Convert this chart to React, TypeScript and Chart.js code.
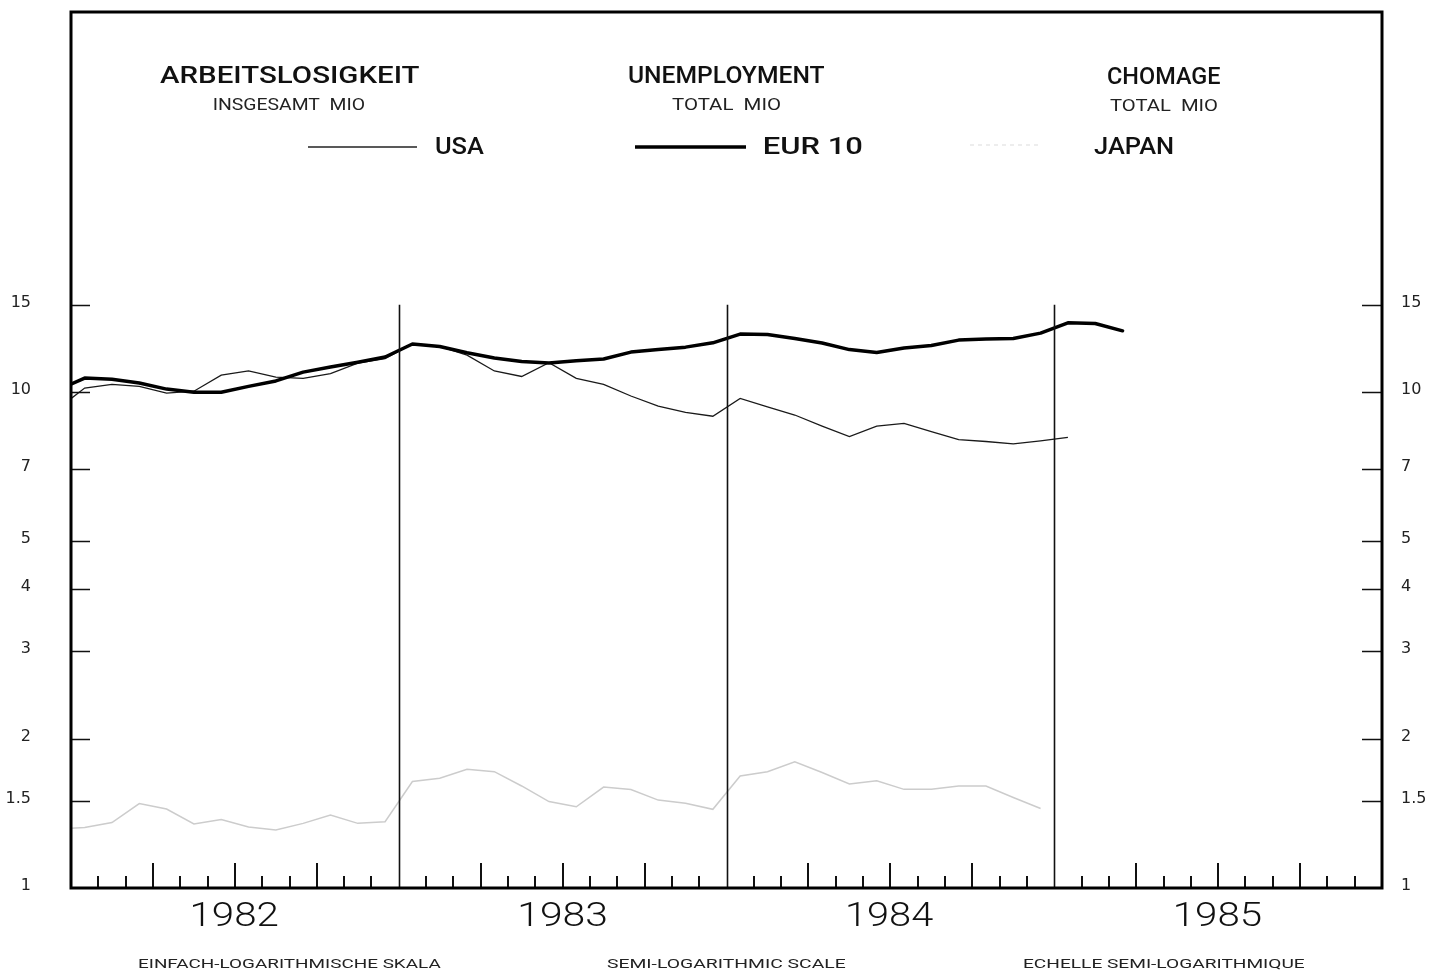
import React, { useEffect, useRef } from "react";
import { Chart, registerables } from "chart.js";

Chart.register(...registerables);

// Monthly observations, Dec 1981 .. Mar 1985
const months = [
  "1981-12",
  "1982-01", "1982-02", "1982-03", "1982-04", "1982-05", "1982-06",
  "1982-07", "1982-08", "1982-09", "1982-10", "1982-11", "1982-12",
  "1983-01", "1983-02", "1983-03", "1983-04", "1983-05", "1983-06",
  "1983-07", "1983-08", "1983-09", "1983-10", "1983-11", "1983-12",
  "1984-01", "1984-02", "1984-03", "1984-04", "1984-05", "1984-06",
  "1984-07", "1984-08", "1984-09", "1984-10", "1984-11", "1984-12",
  "1985-01", "1985-02", "1985-03",
];

// Unemployment, millions
const usa = [
  9.24,
  10.19, 10.36, 10.27, 9.95, 10.04, 10.82, 11.03, 10.72, 10.66, 10.9, 11.44, 11.68,
  12.5, 12.36, 11.87, 11.03, 10.75, 11.46, 10.66, 10.36, 9.82, 9.37, 9.1, 8.94,
  9.71, 9.34, 8.99, 8.54, 8.13, 8.54, 8.65, 8.32, 8.02, 7.95, 7.86, 7.97,
  8.1,
];

const eur10 = [
  10.09,
  10.67, 10.61, 10.43, 10.14, 9.99, 9.99, 10.27, 10.53, 10.97, 11.23, 11.49, 11.77,
  12.5, 12.36, 12.0, 11.71, 11.52, 11.44, 11.57, 11.66, 12.04, 12.18, 12.32, 12.57,
  13.09, 13.07, 12.82, 12.56, 12.18, 12.02, 12.27, 12.41, 12.73, 12.79, 12.83, 13.15,
  13.79, 13.75, 13.29,
];

const japan = [
  1.315,
  1.324, 1.355, 1.48, 1.443, 1.346, 1.374, 1.327, 1.309, 1.35, 1.404, 1.35, 1.36,
  1.64, 1.664, 1.735, 1.716, 1.606, 1.494, 1.458, 1.598, 1.58, 1.504, 1.482, 1.441,
  1.682, 1.716, 1.797, 1.71, 1.621, 1.646, 1.581, 1.581, 1.606, 1.606, 1.522, 1.446,
];

const yTicks = [1, 1.5, 2, 3, 4, 5, 7, 10, 15];
const yTickLabels = ["1", "1.5", "2", "3", "4", "5", "7", "10", "15"];
const years = ["1982", "1983", "1984", "1985"];
const seriesNames = ["USA", "EUR 10", "JAPAN"];
const titles = ["ARBEITSLOSIGKEIT", "UNEMPLOYMENT", "CHOMAGE"];
const subtitles = ["INSGESAMT  MIO", "TOTAL  MIO", "TOTAL  MIO"];
const footers = [
  "EINFACH-LOGARITHMISCHE SKALA",
  "SEMI-LOGARITHMIC SCALE",
  "ECHELLE SEMI-LOGARITHMIQUE",
];

const FIRST_YEAR = 1982;

function monthOffset(label: string): number {
  const [yy, mm] = label.split("-").map(Number);
  return (yy - FIRST_YEAR) * 12 + (mm - 1) + 0.5;
}

function toPoints(values: number[]) {
  return values.map((v, i) => ({ x: monthOffset(months[i]), y: v }));
}

function fitText(
  ctx: CanvasRenderingContext2D,
  str: string,
  left: number,
  right: number,
  baseline: number,
  font: string
) {
  ctx.save();
  ctx.font = font;
  ctx.textAlign = "left";
  ctx.textBaseline = "alphabetic";
  const m = ctx.measureText(str);
  const w = m.actualBoundingBoxLeft + m.actualBoundingBoxRight;
  const sx = (right - left) / w;
  ctx.translate(left + m.actualBoundingBoxLeft * sx, baseline);
  ctx.scale(sx, 1);
  ctx.fillText(str, 0, 0);
  ctx.restore();
}

const decorations = {
  id: "decorations",
  afterDraw(chart: any) {
    const { ctx, chartArea: a } = chart;
    const xs = chart.scales.x;
    const ys = chart.scales.y;
    ctx.save();
    ctx.strokeStyle = "#111";
    ctx.fillStyle = "#111";
    ctx.lineCap = "butt";

    // year dividers
    ctx.lineWidth = 1.6;
    const topDiv = ys.getPixelForValue(15);
    for (let m = 12; m < 48; m += 12) {
      const px = Math.round(xs.getPixelForValue(m)) + 0.5;
      ctx.beginPath();
      ctx.moveTo(px, topDiv);
      ctx.lineTo(px, a.bottom);
      ctx.stroke();
    }

    // month ticks
    ctx.lineWidth = 2;
    for (let m = 1; m < 48; m++) {
      if (m % 12 === 0) continue;
      const px = Math.round(xs.getPixelForValue(m));
      const len = m % 3 === 0 ? 25 : 12;
      ctx.beginPath();
      ctx.moveTo(px, a.bottom);
      ctx.lineTo(px, a.bottom - len);
      ctx.stroke();
    }

    // y ticks + labels
    ctx.lineWidth = 1.5;
    ctx.font = "16px 'DejaVu Sans'";
    ctx.textBaseline = "alphabetic";
    yTicks.forEach((v, i) => {
      const py = Math.round(ys.getPixelForValue(v)) + 0.5;
      if (v !== 1) {
        ctx.beginPath();
        ctx.moveTo(a.left, py);
        ctx.lineTo(a.left + 19, py);
        ctx.moveTo(a.right - 20, py);
        ctx.lineTo(a.right, py);
        ctx.stroke();
      }
      ctx.fillStyle = "#222";
      ctx.textAlign = "right";
      ctx.fillText(yTickLabels[i], 31, py + 1);
      ctx.textAlign = "left";
      ctx.fillText(yTickLabels[i], 1401, py + 1);
    });

    // frame
    ctx.lineWidth = 3;
    ctx.strokeStyle = "#000";
    ctx.strokeRect(a.left, a.top, a.right - a.left, a.bottom - a.top);

    // year labels
    ctx.fillStyle = "#111";
    years.forEach((yr, k) => {
      const cx = xs.getPixelForValue(6 + 12 * k);
      fitText(ctx, yr, cx - 43, cx + 43, 926, "300 34px Roboto");
    });

    // header titles
    const titleBoxes = [
      [160, 420, 83],
      [629, 825, 83],
      [1108, 1220, 84],
    ];
    titles.forEach((t, i) =>
      fitText(ctx, t, titleBoxes[i][0], titleBoxes[i][1], titleBoxes[i][2], "500 24px Roboto")
    );
    const subBoxes = [
      [214, 365, 110],
      [672, 781, 110],
      [1110, 1218, 111],
    ];
    ctx.fillStyle = "#222";
    subtitles.forEach((t, i) =>
      fitText(ctx, t, subBoxes[i][0], subBoxes[i][1], subBoxes[i][2], "400 16px Roboto")
    );

    // legend
    const legendLines = [
      { x1: 308, x2: 417, y: 147, w: 1.3, c: "#222", dash: [] as number[] },
      { x1: 635, x2: 746, y: 147, w: 3.5, c: "#000", dash: [] as number[] },
      { x1: 970, x2: 1040, y: 145, w: 1.2, c: "#dcdcdc", dash: [4, 4] },
    ];
    legendLines.forEach((l) => {
      ctx.beginPath();
      ctx.setLineDash(l.dash);
      ctx.strokeStyle = l.c;
      ctx.lineWidth = l.w;
      ctx.moveTo(l.x1, l.y);
      ctx.lineTo(l.x2, l.y);
      ctx.stroke();
    });
    ctx.setLineDash([]);
    const legendBoxes = [
      [436, 484],
      [764, 862],
      [1094, 1173],
    ];
    ctx.fillStyle = "#111";
    seriesNames.forEach((n, i) =>
      fitText(ctx, n, legendBoxes[i][0], legendBoxes[i][1], 154, "500 24px Roboto")
    );

    // footers
    const footBoxes = [
      [138, 441],
      [607, 846],
      [1023, 1305],
    ];
    ctx.fillStyle = "#222";
    footers.forEach((t, i) =>
      fitText(ctx, t, footBoxes[i][0], footBoxes[i][1], 968, "400 12px Roboto")
    );

    ctx.restore();
  },
};

export default function App() {
  const ref = useRef<HTMLCanvasElement | null>(null);

  useEffect(() => {
    if (!ref.current) return;
    const chart = new Chart(ref.current, {
      type: "line",
      data: {
        datasets: [
          {
            label: seriesNames[1],
            data: toPoints(eur10),
            borderColor: "#000",
            borderWidth: 3.5,
            borderJoinStyle: "round",
            borderCapStyle: "round",
            tension: 0,
            pointRadius: 0,
          },
          {
            label: seriesNames[0],
            data: toPoints(usa),
            borderColor: "#1a1a1a",
            borderWidth: 1.3,
            tension: 0,
            pointRadius: 0,
          },
          {
            label: seriesNames[2],
            data: toPoints(japan),
            borderColor: "#cccccc",
            borderWidth: 1.5,
            tension: 0,
            pointRadius: 0,
          },
        ],
      },
      options: {
        animation: false,
        responsive: false,
        devicePixelRatio: 1,
        layout: { padding: { left: 71, right: 62, top: 12, bottom: 85 } },
        scales: {
          x: { type: "linear", min: 0, max: 48, display: false },
          y: { type: "logarithmic", min: 1, max: 58.4, display: false },
        },
        plugins: {
          legend: { display: false },
          title: { display: false },
          tooltip: { enabled: false },
        },
      },
      plugins: [decorations],
    });
    return () => chart.destroy();
  }, []);

  return (
    <div
      style={{
        position: "absolute",
        left: 0,
        top: 0,
        width: 1444,
        height: 973,
        background: "#fff",
      }}
    >
      <canvas ref={ref} width={1444} height={973} style={{ width: 1444, height: 973 }} />
    </div>
  );
}
